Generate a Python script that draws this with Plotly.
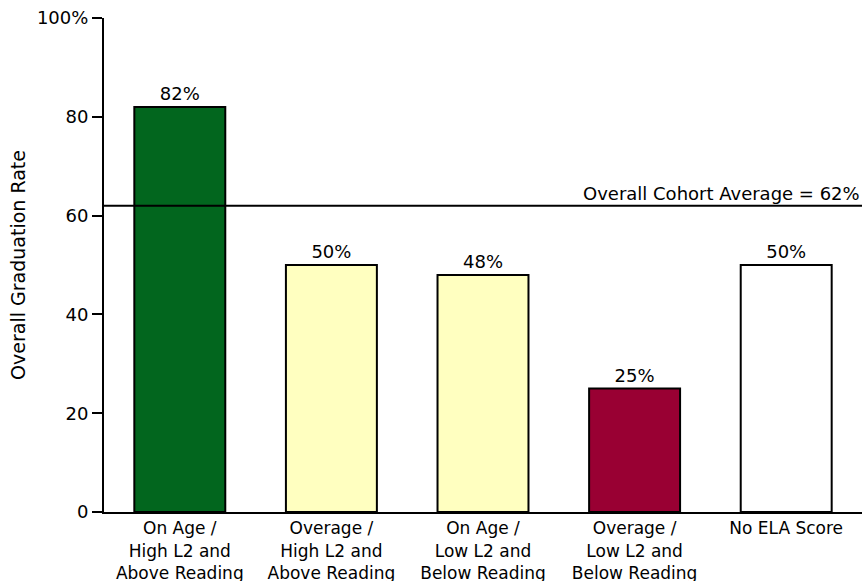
import plotly.graph_objects as go

categories = [
    "On Age /<br>High L2 and<br>Above Reading",
    "Overage /<br>High L2 and<br>Above Reading",
    "On Age /<br>Low L2 and<br>Below Reading",
    "Overage /<br>Low L2 and<br>Below Reading",
    "No ELA Score",
]
rates = [82, 50, 48, 25, 50]
bar_colors = ["#02661e", "#ffffc0", "#ffffc0", "#990033", "#ffffff"]
cohort_average = 62
y_ticks = [0, 20, 40, 60, 80, 100]
y_tick_labels = ["0", "20", "40", "60", "80", "100%"]

FONT = "DejaVu Sans, Verdana, sans-serif"
SIZE = 18
CAT_SIZE = 17

fig = go.Figure()
fig.add_trace(go.Bar(
    x=categories,
    y=rates,
    marker=dict(color=bar_colors, line=dict(color="#000000", width=2)),
    text=[f"{v}%" for v in rates],
    textposition="outside",
    constraintext="none",
    textfont=dict(family=FONT, size=SIZE, color="#000000"),
    cliponaxis=False,
))

# cohort average reference line across the full plot width
fig.add_shape(
    type="line", xref="paper", yref="y",
    x0=0, x1=1, y0=cohort_average, y1=cohort_average,
    line=dict(color="#000000", width=2),
)
fig.add_annotation(
    xref="paper", yref="y", x=1, y=cohort_average,
    text=f"Overall Cohort Average = {cohort_average}%",
    showarrow=False, xanchor="right", yanchor="bottom", yshift=0,
    font=dict(family=FONT, size=SIZE, color="#000000"),
)

fig.update_layout(
    width=865, height=581,
    margin=dict(l=104, r=3, t=18, b=69),
    paper_bgcolor="#ffffff", plot_bgcolor="#ffffff",
    bargap=0.4,
    showlegend=False,
    font=dict(family=FONT, size=SIZE, color="#000000"),
)
fig.update_xaxes(
    automargin=False,
    showline=True, linecolor="#000000", linewidth=2,
    ticks="", showgrid=False, zeroline=False,
    tickfont=dict(family=FONT, size=CAT_SIZE, color="#000000"),
)
fig.update_yaxes(
    automargin=False,
    range=[0, 100], tickvals=y_ticks, ticktext=y_tick_labels,
    showline=True, linecolor="#000000", linewidth=2,
    ticks="outside", ticklen=10, tickwidth=2, tickcolor="#000000",
    showgrid=False, zeroline=False,
    title=dict(text="Overall Graduation Rate", standoff=6,
               font=dict(family=FONT, size=19, color="#000000")),
    tickfont=dict(family=FONT, size=SIZE, color="#000000"),
)

fig.write_html("out.html")
